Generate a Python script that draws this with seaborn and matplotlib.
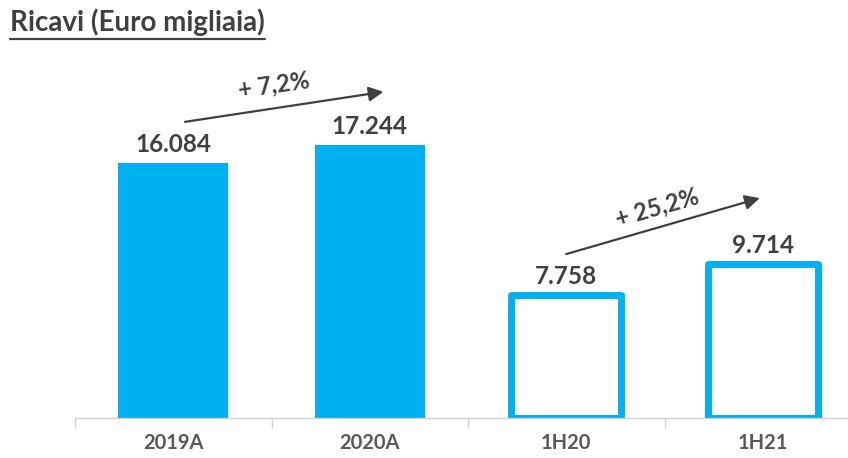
import matplotlib
matplotlib.use("Agg")
import matplotlib.pyplot as plt
import seaborn as sns
import pandas as pd
from matplotlib.lines import Line2D

categories = ["2019A", "2020A", "1H20", "1H21"]
values = [16084, 17244, 7758, 9714]
value_labels = ["16.084", "17.244", "7.758", "9.714"]
growth_labels = ["+ 7,2%", "+ 25,2%"]
title = "Ricavi (Euro migliaia)"

BLUE = "#00B0F0"
DARK = "#404040"
GRAY = "#595959"
AXIS = "#D0D0D0"

sns.set_theme(style="white")
plt.rcParams["font.family"] = ["Lato", "DejaVu Sans"]

W, H = 848, 458
fig = plt.figure(figsize=(W / 100, H / 100), dpi=100)
px_per_unit = 255 / 16084
ax_bottom_px, ax_top_px, ax_left_px = 418, 40, 75
ax = fig.add_axes([ax_left_px / W, 1 - ax_bottom_px / H,
                   (W - ax_left_px) / W, (ax_bottom_px - ax_top_px) / H])

df = pd.DataFrame({"cat": categories, "val": values})
sns.barplot(data=df, x="cat", y="val", color=BLUE, width=0.56,
            saturation=1, ax=ax, order=categories)

for i, p in enumerate(ax.patches):
    p.set_edgecolor(BLUE)
    if i >= 2:
        p.set_facecolor("white")
        p.set_linewidth(5)
        p.set_joinstyle("round")
    else:
        p.set_linewidth(0)

# value labels
for i, (v, lab) in enumerate(zip(values, value_labels)):
    ax.annotate(lab, xy=(i, v), xytext=(0, 5), textcoords="offset points",
                ha="center", va="bottom", fontsize=17.5, fontweight="bold",
                color=DARK)

# growth arrows
def arrow(x0, y0, x1, y1):
    ax.annotate("", xy=(x1, y1), xytext=(x0, y0),
                arrowprops=dict(arrowstyle="-|>", color=DARK, lw=1.6,
                                mutation_scale=22, shrinkA=0, shrinkB=0))

arrow(0.06, 18680, 1.07, 20575)
arrow(2.0, 10340, 2.985, 13870)
ax.text(0.51, 21000, growth_labels[0], ha="center", va="center",
        rotation=8, fontsize=17, fontweight="bold", color=DARK)
ax.text(2.46, 13300, growth_labels[1], ha="center", va="center",
        rotation=16, fontsize=17, fontweight="bold", color=DARK)

# axes styling
sns.despine(ax=ax, left=True, top=True, right=True)
ax.spines["bottom"].set_color(AXIS)
ax.spines["bottom"].set_linewidth(1.0)
ax.set_yticks([])
ax.set_xlabel("")
ax.set_ylabel("")
ax.set_xticks(range(len(categories)))
ax.set_xticklabels(categories, fontsize=14.5, fontweight="bold", color=GRAY)
ax.tick_params(axis="x", which="major", length=0, pad=11)
ax.set_xticks([i - 0.5 for i in range(len(categories) + 1)], minor=True)
ax.tick_params(axis="x", which="minor", length=7, width=1.0, color=AXIS,
               direction="out", bottom=True)

ax.set_xlim(-0.5, -0.5 + (W - ax_left_px) / 196.5)
ax.set_ylim(0, (ax_bottom_px - ax_top_px) / px_per_unit)

# title with underline
t = fig.text(10 / W, 1 - 22 / H, title, ha="left", va="center",
             fontsize=20, fontweight="bold", color=DARK)
fig.canvas.draw()
bb = t.get_window_extent()
uy = 1 - 39 / H
fig.add_artist(Line2D([bb.x0 / W, bb.x1 / W], [uy, uy], color=DARK,
                      lw=1.6, transform=fig.transFigure))

fig.savefig("out.png", dpi=100)
